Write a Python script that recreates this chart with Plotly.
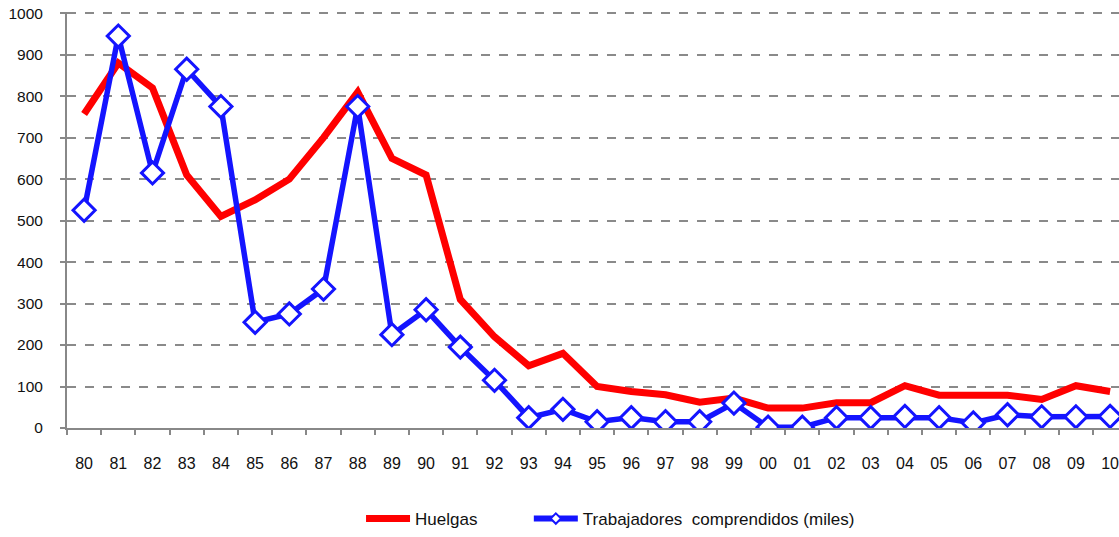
import plotly.graph_objects as go

years = ["80", "81", "82", "83", "84", "85", "86", "87", "88", "89", "90", "91", "92", "93", "94",
         "95", "96", "97", "98", "99", "00", "01", "02", "03", "04", "05", "06", "07", "08", "09", "10"]
huelgas = [757, 880, 820, 610, 510, 550, 600, 700, 810, 650, 610, 310, 220, 150, 180,
           100, 88, 80, 62, 72, 48, 48, 61, 61, 102, 79, 79, 79, 69, 102, 88]
trabajadores = [525, 945, 615, 865, 775, 255, 275, 335, 775, 225, 285, 195, 115, 25, 45,
                15, 25, 15, 15, 60, 2, 2, 25, 25, 28, 25, 12, 32, 27, 27, 28]
y_ticks = list(range(0, 1001, 100))

RED = "#FF0000"
BLUE = "#1414FF"

fig = go.Figure()
fig.add_trace(go.Scatter(
    x=years, y=huelgas, name="Huelgas", mode="lines",
    line=dict(color=RED, width=7), legend="legend",
))
fig.add_trace(go.Scatter(
    x=years, y=trabajadores, name="Trabajadores  comprendidos (miles)", mode="lines+markers",
    line=dict(color=BLUE, width=5.5),
    marker=dict(symbol="diamond", size=17, color="white", line=dict(color=BLUE, width=3)),
    showlegend=False,
))
# legend-only entry with small marker, as in the reference legend
fig.add_trace(go.Scatter(
    x=[None], y=[None], name="Trabajadores  comprendidos (miles)", mode="lines+markers",
    line=dict(color=BLUE, width=6),
    marker=dict(symbol="diamond", size=8, color="white", line=dict(color=BLUE, width=2)),
    legend="legend2",
))

legend_common = dict(orientation="h", yanchor="middle", y=-0.22, xanchor="left",
                     font=dict(size=17), bgcolor="rgba(0,0,0,0)", itemwidth=44)
fig.update_layout(
    width=1119, height=537,
    margin=dict(l=67, r=0, t=12, b=107),
    paper_bgcolor="white", plot_bgcolor="white",
    font=dict(family="Liberation Sans, Arial, sans-serif", size=16, color="#111111"),
    showlegend=True,
    legend=dict(x=0.2795, **legend_common),
    legend2=dict(x=0.439, **legend_common),
)
fig.update_xaxes(
    type="category", range=[-0.5, 30.26], automargin=False,
    showline=True, linecolor="#888888", linewidth=2,
    ticks="outside", tickson="boundaries", ticklen=5, tickcolor="#888888", tickwidth=1.5,
    ticklabelstandoff=20, showgrid=False, fixedrange=True,
)
fig.update_yaxes(
    range=[0, 1003], tickvals=y_ticks, automargin=False,
    showline=True, linecolor="#888888", linewidth=2,
    ticks="outside", ticklen=5, tickcolor="#888888", tickwidth=1.5,
    ticklabelstandoff=14, ticklabeloverflow="allow", tickfont=dict(size=15.5),
    showgrid=True, gridcolor="#8a8a8a", griddash="dash", gridwidth=1.5,
    zeroline=False,
)

# remove the default 8px page margin so the figure fills the window exactly
fig.write_html("out.html", config={"displayModeBar": False},
               post_script="document.body.style.margin='0';")
